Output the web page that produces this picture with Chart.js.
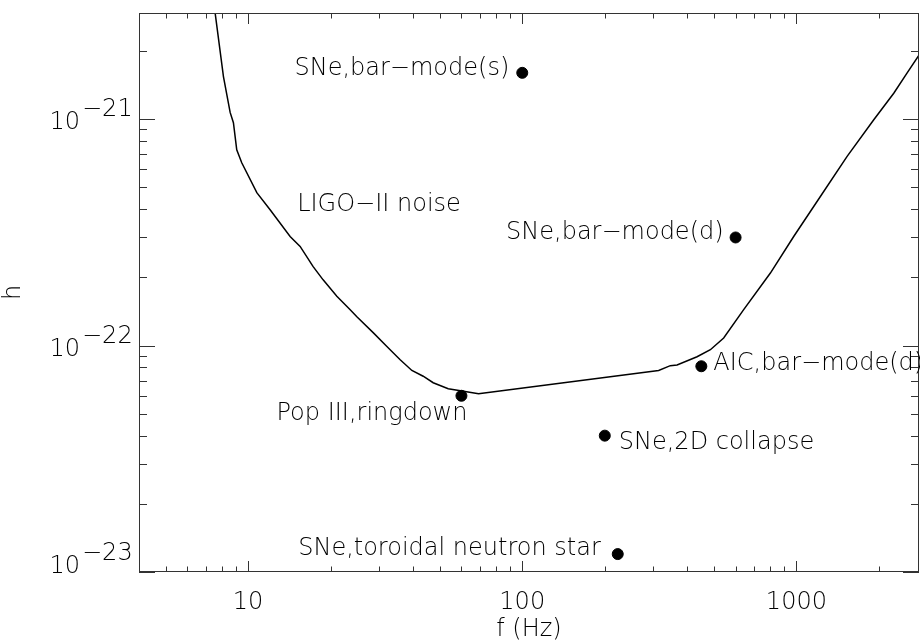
<!DOCTYPE html>
<html>
<head>
<meta charset="utf-8">
<script src="https://cdn.jsdelivr.net/npm/chart.js@4.4.0/dist/chart.umd.min.js"></script>
<style>
  html, body { margin: 0; padding: 0; background: #fff; overflow: hidden; }
  #wrap { position: relative; width: 920px; height: 642px; }
</style>
</head>
<body>
<div id="wrap"><canvas id="noiseChart"></canvas></div>
<script>
// LIGO-II noise curve (Hz, strain)
var noiseFreq = [7.5, 8.13, 8.6, 8.84, 9.09, 9.48, 10.76, 12.03, 14.23, 15.48, 17.27, 18.78, 21.07, 23.57, 24.93, 28.59, 32.08, 35.87, 39.57, 43.52, 47.33, 53.7, 61.07, 69.27, 314.4, 346.8, 367.0, 434.1, 485.5, 542.9, 642.2, 803.7, 977.5, 1223, 1531, 1915, 2265, 2535, 2835];
var noiseH = [3.25e-21, 1.54e-21, 1.07e-21, 9.63e-22, 7.32e-22, 6.41e-22, 4.73e-22, 3.98e-22, 3.03e-22, 2.74e-22, 2.23e-22, 1.95e-22, 1.65e-22, 1.44e-22, 1.34e-22, 1.14e-22, 9.91e-23, 8.66e-23, 7.76e-23, 7.32e-23, 6.85e-23, 6.45e-23, 6.28e-23, 6.13e-23, 7.76e-23, 8.15e-23, 8.2e-23, 8.92e-23, 9.58e-23, 1.08e-22, 1.44e-22, 2.09e-22, 3.03e-22, 4.55e-22, 6.84e-22, 9.93e-22, 1.30e-21, 1.60e-21, 1.96e-21];

// sources
var sourceNames = ['SNe,bar\u2212mode(s)', 'SNe,bar\u2212mode(d)', 'AIC,bar\u2212mode(d)', 'Pop III,ringdown', 'SNe,2D collapse', 'SNe,toroidal neutron star'];
var sourceFreq = [100, 600, 450, 60, 200, 223];
var sourceH = [1.6e-21, 3.0e-22, 8.1e-23, 6.0e-23, 4.0e-23, 1.2e-23];

var xTickValues = [10, 100, 1000];
var xTickLabels = ['10', '100', '1000'];
var yTickValues = [1e-23, 1e-22, 1e-21];
var yTickExp = ['\u221223', '\u221222', '\u221221'];
var curveLabel = 'LIGO\u2212II noise';
var curveLabelAt = {f: 15.1, h: 3.94e-22};

var FONT = '"DejaVu Sans", sans-serif';
var FONT_SIZE = 24;
var FONT_WEIGHT = 200;
var AXIS_COLOR = '#333';

// where each source label sits relative to its dot
var labelPlace = [
    {align: 'right', dx: -13, dy: 2},
    {align: 'right', dx: -12, dy: 2},
    {align: 'left', dx: 12, dy: 4},
    {align: 'right', dx: 6, dy: 24},
    {align: 'left', dx: 14, dy: 13},
    {align: 'right', dx: -17, dy: 1}
];

function minorTicks(min, max){
    var out = [];
    for (var e = Math.floor(Math.log10(min)); e <= Math.ceil(Math.log10(max)); e++){
        for (var m = 1; m <= 9; m++){
            var v = m * Math.pow(10, e);
            if (v >= min * 0.999 && v <= max * 1.001) out.push({v: v, major: m === 1});
        }
    }
    return out;
}

var framePlugin = {
    id: 'frame',
    afterDatasetsDraw: function(chart){
        var ctx = chart.ctx, a = chart.chartArea;
        var xs = chart.scales.x, ys = chart.scales.y;
        ctx.save();
        ctx.strokeStyle = AXIS_COLOR;
        ctx.lineWidth = 1;
        ctx.strokeRect(a.left + 0.5, a.top + 0.5, a.right - a.left - 1, a.bottom - a.top - 1);

        ctx.beginPath();
        minorTicks(xs.min, xs.max).forEach(function(t){
            var px = Math.round(xs.getPixelForValue(t.v)) + 0.5;
            var len = t.major ? 11 : 5.5;
            ctx.moveTo(px, a.bottom); ctx.lineTo(px, a.bottom - len);
            ctx.moveTo(px, a.top); ctx.lineTo(px, a.top + len);
        });
        minorTicks(ys.min, ys.max).forEach(function(t){
            var py = Math.round(ys.getPixelForValue(t.v)) + 0.5;
            var len = t.major ? 16 : 8;
            ctx.moveTo(a.left, py); ctx.lineTo(a.left + len, py);
            ctx.moveTo(a.right, py); ctx.lineTo(a.right - len, py);
        });
        ctx.stroke();

        ctx.fillStyle = '#000';
        ctx.font = FONT_WEIGHT + ' ' + FONT_SIZE + 'px ' + FONT;
        ctx.textBaseline = 'alphabetic';

        // x tick labels
        ctx.textAlign = 'center';
        xTickValues.forEach(function(v, i){
            ctx.fillText(xTickLabels[i], xs.getPixelForValue(v), a.bottom + 37);
        });

        // y tick labels as 10 with raised exponent
        yTickValues.forEach(function(v, i){
            var py = ys.getPixelForValue(v);
            var base = Math.min(py + 10, a.bottom + 1);
            ctx.textAlign = 'right';
            ctx.fillText('10', 80, base);
            ctx.textAlign = 'left';
            ctx.fillText(yTickExp[i], 82, base - 13);
        });

        // source labels
        var meta = chart.getDatasetMeta(1);
        meta.data.forEach(function(pt, i){
            var p = labelPlace[i];
            ctx.textAlign = p.align;
            ctx.fillText(sourceNames[i], pt.x + p.dx, pt.y + p.dy);
        });

        ctx.textAlign = 'left';
        ctx.fillText(curveLabel, xs.getPixelForValue(curveLabelAt.f), ys.getPixelForValue(curveLabelAt.h));
        ctx.restore();
    }
};

var ctx = document.getElementById('noiseChart').getContext('2d');
var chart = new Chart(ctx, {
    type: 'line',
    data: {
        datasets: [{
            label: 'LIGO-II noise',
            data: noiseFreq.map(function(f, i){ return {x: f, y: noiseH[i]}; }),
            borderColor: '#000',
            borderWidth: 1.5,
            pointRadius: 0,
            tension: 0,
            fill: false
        }, {
            type: 'scatter',
            label: 'sources',
            data: sourceFreq.map(function(f, i){ return {x: f, y: sourceH[i]}; }),
            backgroundColor: '#000',
            borderColor: '#000',
            pointRadius: 5.5,
            showLine: false
        }]
    },
    options: {
        responsive: true,
        maintainAspectRatio: false,
        animation: false,
        layout: {autoPadding: false, padding: {top: 13, right: 1, left: 0, bottom: 0}},
        plugins: {legend: {display: false}, tooltip: {enabled: false}},
        scales: {
            x: {
                type: 'logarithmic',
                min: 4,
                max: 2800,
                bounds: 'data',
                grid: {display: false},
                border: {display: false},
                afterFit: function(s){ s.height = 70; },
                ticks: {display: false},
                title: {
                    display: true,
                    text: 'f (Hz)',
                    color: '#000',
                    padding: 0,
                    font: {family: FONT, size: FONT_SIZE, weight: FONT_WEIGHT, lineHeight: 1.0}
                }
            },
            y: {
                type: 'logarithmic',
                min: 1e-23,
                max: 2.94e-21,
                bounds: 'data',
                grid: {display: false},
                border: {display: false},
                afterFit: function(s){ s.width = 139; },
                ticks: {display: false},
                title: {
                    display: true,
                    text: 'h',
                    color: '#000',
                    padding: {top: 1.5, bottom: 0},
                    font: {family: FONT, size: FONT_SIZE, weight: FONT_WEIGHT, lineHeight: 1.0}
                }
            }
        }
    },
    plugins: [framePlugin]
});
</script>
</body>
</html>
